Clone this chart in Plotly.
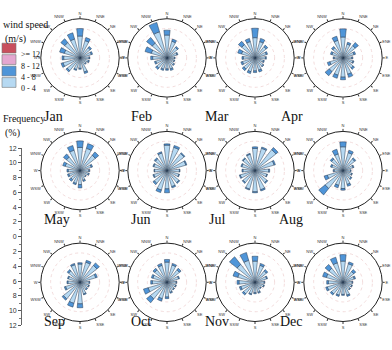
import plotly.graph_objects as go

# ---- data -------------------------------------------------------------
directions = ["N", "NNE", "NE", "ENE", "E", "ESE", "SE", "SSE",
              "S", "SSW", "SW", "WSW", "W", "WNW", "NW", "NNW"]
dir_angles = [0.0, 22.5, 45.0, 67.5, 90.0, 112.5, 135.0, 157.5,
              180.0, 202.5, 225.0, 247.5, 270.0, 292.5, 315.0, 337.5]
months = ["Jan", "Feb", "Mar", "Apr", "May", "Jun",
          "Jul", "Aug", "Sep", "Oct", "Nov", "Dec"]

# frequency (%) of winds 0-4 m/s per direction
freq_0_4 = {
    "Jan": [6.7, 5.5, 4.0, 3.6, 2.8, 2.7, 2.3, 4.5, 3.2, 3.7, 5.0, 5.4, 5.0, 5.0, 6.0, 6.0],
    "Feb": [7.0, 5.3, 4.1, 3.2, 2.3, 2.3, 2.7, 3.5, 3.4, 3.6, 4.0, 3.6, 4.4, 5.0, 5.8, 8.3],
    "Mar": [6.2, 5.2, 4.4, 3.6, 3.2, 2.7, 3.2, 3.9, 4.0, 4.4, 4.4, 4.0, 3.6, 4.3, 5.2, 5.2],
    "Apr": [6.4, 4.4, 4.8, 3.5, 2.7, 3.2, 4.0, 5.2, 5.9, 5.5, 5.4, 4.2, 2.7, 3.5, 4.0, 5.6],
    "May": [7.1, 7.1, 6.0, 3.6, 2.7, 2.7, 2.3, 3.1, 4.3, 4.1, 3.6, 3.6, 3.6, 4.7, 5.3, 6.5],
    "Jun": [7.8, 7.4, 6.7, 6.0, 3.8, 3.8, 4.7, 5.1, 5.6, 6.2, 5.0, 4.2, 3.8, 4.2, 4.6, 5.6],
    "Jul": [6.8, 7.1, 8.2, 6.1, 4.2, 3.8, 4.7, 6.1, 6.5, 5.9, 4.7, 4.7, 3.7, 4.2, 4.7, 5.2],
    "Aug": [7.3, 5.7, 4.6, 3.2, 2.3, 2.8, 3.2, 4.4, 5.5, 4.7, 7.0, 5.0, 2.7, 3.6, 4.5, 5.3],
    "Sep": [5.6, 6.4, 6.6, 5.0, 2.8, 2.8, 2.7, 3.7, 6.6, 6.7, 6.5, 4.6, 3.7, 3.7, 4.5, 5.6],
    "Oct": [6.2, 5.5, 4.9, 3.7, 2.8, 2.8, 2.8, 3.2, 4.5, 5.2, 6.5, 6.0, 4.5, 4.5, 4.9, 5.4],
    "Nov": [6.5, 5.4, 4.5, 3.7, 2.8, 2.8, 2.3, 3.2, 3.2, 3.7, 4.5, 4.5, 4.9, 5.5, 7.0, 7.0],
    "Dec": [6.5, 5.9, 4.2, 3.6, 2.8, 2.8, 2.8, 4.1, 3.7, 4.1, 4.5, 5.0, 4.5, 5.3, 5.5, 6.2],
}
# frequency (%) of winds 4-8 m/s per direction
freq_4_8 = {
    "Jan": [2.3, 1.0, 0.5, 0.4, 0.2, 0.3, 0.2, 0.5, 0.3, 0.3, 0.5, 0.6, 0.5, 1.5, 1.5, 2.0],
    "Feb": [1.5, 0.7, 0.4, 0.3, 0.2, 0.2, 0.3, 0.5, 0.4, 0.4, 0.5, 0.4, 0.6, 2.0, 2.2, 3.0],
    "Mar": [2.9, 1.0, 0.6, 0.4, 0.3, 0.3, 0.3, 0.6, 0.5, 0.6, 0.6, 0.5, 0.4, 1.2, 1.3, 1.0],
    "Apr": [2.5, 0.6, 1.2, 0.5, 0.3, 0.3, 0.5, 1.0, 0.8, 1.0, 1.6, 0.8, 0.3, 0.5, 0.5, 1.3],
    "May": [2.0, 1.5, 1.3, 0.4, 0.3, 0.3, 0.2, 0.4, 1.0, 0.4, 0.6, 0.4, 0.4, 0.8, 1.2, 1.5],
    "Jun": [0.4, 0.6, 0.3, 0.3, 0.2, 0.2, 0.3, 0.4, 1.2, 0.8, 0.5, 0.3, 0.2, 0.3, 0.4, 0.4],
    "Jul": [0.5, 0.4, 0.8, 0.4, 0.3, 0.2, 0.3, 0.4, 0.3, 0.3, 0.3, 0.3, 0.3, 0.3, 0.3, 0.3],
    "Aug": [1.5, 0.8, 0.4, 0.3, 0.2, 0.2, 0.3, 0.6, 0.5, 0.8, 2.5, 1.0, 0.3, 0.4, 0.5, 1.5],
    "Sep": [0.4, 0.6, 1.0, 0.5, 0.2, 0.2, 0.3, 0.3, 1.2, 1.2, 0.5, 0.4, 0.3, 0.3, 0.5, 0.4],
    "Oct": [0.8, 0.5, 0.6, 0.3, 0.2, 0.2, 0.2, 0.3, 0.5, 0.8, 1.5, 1.5, 0.5, 0.5, 0.6, 0.6],
    "Nov": [1.5, 0.6, 0.5, 0.3, 0.2, 0.2, 0.2, 0.3, 0.3, 0.3, 0.5, 0.5, 0.6, 1.5, 3.0, 2.5],
    "Dec": [2.0, 0.6, 0.8, 0.4, 0.2, 0.2, 0.2, 0.4, 0.3, 0.4, 0.5, 0.5, 0.5, 1.2, 1.5, 1.8],
}

speed_labels = [">= 12", "8 - 12", "4 - 8", "0 - 4"]
speed_colors = ["#c94f5d", "#e4a7d0", "#4f95d8", "#b6d9f2"]

freq_tickvals = [-12, -10, -8, -6, -4, -2, 0, 2, 4, 6, 8, 10, 12]
freq_ticktext = ["12", "10", "8", "6", "4", "2", "0", "2", "4", "6", "8", "10", "12"]

# ---- layout geometry (pixels) -----------------------------------------
W, H = 392, 350
col_cx = [80, 167, 255, 343]
row_cy = [55, 170, 284]
R = 40          # half-size of each polar domain box
SERIF = "Liberation Serif, Times New Roman, serif"
SANS = "Liberation Sans, Arial, sans-serif"
C_LIGHT, C_MID = speed_colors[3], speed_colors[2]
EDGE = dict(color="#2a3c52", width=0.5)

fig = go.Figure()
annotations = []
shapes = []

for i, m in enumerate(months):
    sub = "polar" if i == 0 else f"polar{i + 1}"
    fig.add_trace(go.Barpolar(r=freq_0_4[m], theta=dir_angles, width=13,
                              marker=dict(color=C_LIGHT, line=EDGE),
                              name="0 - 4", subplot=sub, showlegend=False))
    fig.add_trace(go.Barpolar(r=freq_4_8[m], theta=dir_angles, width=13,
                              marker=dict(color=C_MID, line=EDGE),
                              name="4 - 8", subplot=sub, showlegend=False))
    cx, cy = col_cx[i % 4], row_cy[i // 4]
    fig.update_layout({sub: dict(
        domain=dict(x=[(cx - R) / W, (cx + R) / W],
                    y=[1 - (cy + R) / H, 1 - (cy - R) / H]),
        bgcolor="white",
        barmode="stack",
        angularaxis=dict(rotation=90, direction="clockwise",
                         tickmode="array", tickvals=dir_angles, ticktext=directions,
                         tickfont=dict(size=4, color="#333", family=SANS),
                         linecolor="#222", linewidth=1, showgrid=False,
                         ticks="outside", ticklen=2, tickcolor="#333"),
        radialaxis=dict(range=[0, 12], showticklabels=False, ticks="",
                        showline=False, tickvals=[3, 6, 9],
                        gridcolor="#f3dcdc", griddash="dot", gridwidth=0.8),
    )})
    # month name sits just off the lower-left of each rose
    annotations.append(dict(text=m, x=(cx - 38) / W, y=1 - (cy + 50) / H,
                            xref="paper", yref="paper", showarrow=False,
                            font=dict(family=SERIF, size=14, color="#111")))

# frequency scale on the left
fig.add_trace(go.Scatter(x=[0], y=[0], mode="markers", marker=dict(opacity=0),
                         hoverinfo="skip", showlegend=False))
fig.update_layout(
    xaxis=dict(domain=[22 / W, 28 / W], visible=False, range=[0, 1]),
    yaxis=dict(domain=[1 - 328 / H, 1 - 147 / H], range=[-12, 12],
               tickmode="array", tickvals=freq_tickvals, ticktext=freq_ticktext,
               tickfont=dict(size=7, color="#333", family=SANS),
               ticks="outside", ticklen=3, tickcolor="#555",
               minor=dict(ticks="outside", ticklen=2, dtick=1, tickcolor="#777"),
               showline=True, linecolor="#666", linewidth=0.8,
               showgrid=False, zeroline=False, fixedrange=True),
)

# wind speed key
annotations.append(dict(text="wind speed", x=1 / W, y=1 - 13 / H, xref="paper", yref="paper",
                        xanchor="left", showarrow=False,
                        font=dict(family=SERIF, size=10, color="#111")))
annotations.append(dict(text="(m/s)", x=3 / W, y=1 - 28 / H, xref="paper", yref="paper",
                        xanchor="left", showarrow=False,
                        font=dict(family=SERIF, size=10, color="#111")))
for k, (lab, col) in enumerate(zip(speed_labels, speed_colors)):
    top = 40 + k * 11.7
    shapes.append(dict(type="rect", xref="paper", yref="paper",
                       x0=2 / W, x1=16 / W, y0=1 - (top + 10) / H, y1=1 - top / H,
                       fillcolor=col, line=dict(color="#777", width=0.6)))
    annotations.append(dict(text=lab, x=19 / W, y=1 - (top + 5) / H,
                            xref="paper", yref="paper", xanchor="left", showarrow=False,
                            font=dict(family=SERIF, size=8, color="#111")))

annotations.append(dict(text="Frequency", x=1 / W, y=1 - 117 / H, xref="paper", yref="paper",
                        xanchor="left", showarrow=False,
                        font=dict(family=SERIF, size=10, color="#111")))
annotations.append(dict(text="(%)", x=3 / W, y=1 - 132 / H, xref="paper", yref="paper",
                        xanchor="left", showarrow=False,
                        font=dict(family=SERIF, size=10, color="#111")))

fig.update_layout(width=W, height=H, margin=dict(l=0, r=0, t=0, b=0),
                  paper_bgcolor="white", plot_bgcolor="white",
                  annotations=annotations, shapes=shapes, showlegend=False)

fig.write_html("out.html")
